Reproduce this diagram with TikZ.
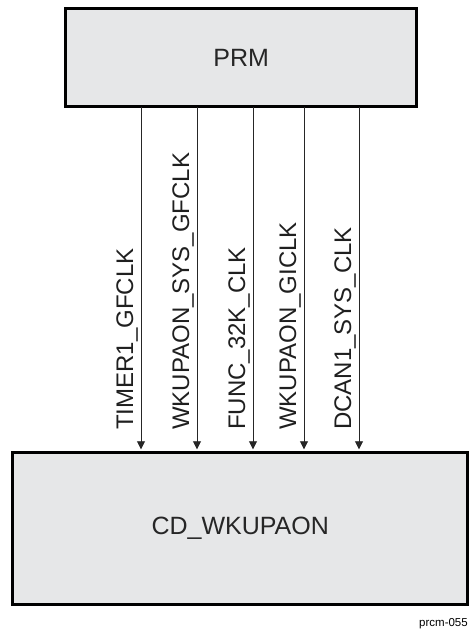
\documentclass[tikz,border=0pt]{standalone}
\usepackage{fontspec}
\setmainfont{Liberation Sans}
\usetikzlibrary{arrows.meta}
\begin{document}
\begin{tikzpicture}[x=1pt,y=-1pt,
  blk/.style={draw=black,line width=3.4pt,fill=boxgray,inner sep=0pt},
  sig/.style={draw=black!85,line width=0.8pt,-{Triangle[width=8pt,length=8pt]}},
  siglab/.style={rotate=90,anchor=base west,inner sep=0pt,font=\fontsize{24}{27}\selectfont,text=black!88},
  boxlab/.style={font=\fontsize{25}{29}\selectfont,text=black!85}]
\definecolor{boxgray}{HTML}{E6E7E8}
\useasboundingbox (0,0) rectangle (470,633);
\node[blk,minimum width=351pt,minimum height=98pt,anchor=north west] (prm) at (64,7) {};
\node[boxlab] (prmt) at (prm.center) {PRM};
\node[blk,minimum width=455pt,minimum height=152pt,anchor=north west] (cd) at (11,451) {};
\node[boxlab] (cdt) at (cd.center) {CD\_WKUPAON};
\foreach \x/\n/\t in {141/a/TIMER1\_GFCLK,197/b/WKUPAON\_SYS\_GFCLK,253/c/FUNC\_32K\_CLK,304/d/WKUPAON\_GICLK,359/e/DCAN1\_SYS\_CLK}{
  \coordinate (s\n) at (\x,106.7);
  \coordinate (t\n) at (\x,449.3);
  \draw[sig] (s\n) -- (t\n);
  \node[siglab] (l\n) at (\x-8,430) {\t};
}
\node[anchor=base west,inner sep=0pt,font=\fontsize{11.5}{13}\selectfont] (tag) at (419,626) {prcm-055};
\end{tikzpicture}
\end{document}
